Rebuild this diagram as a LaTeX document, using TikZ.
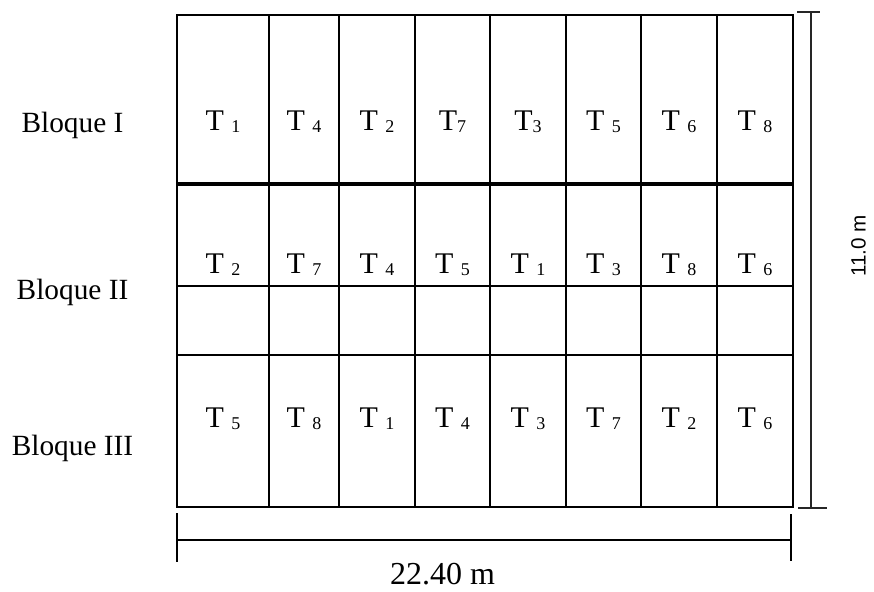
\documentclass[tikz,border=0pt]{standalone}
\usepackage{fontspec}
\setmainfont{Liberation Serif}
\newfontfamily\arialfont{Liberation Sans}
\usetikzlibrary{positioning}

% subindice de los tratamientos
\newcommand{\tsub}[1]{{\fontsize{13.5}{13.5}\selectfont\raisebox{-0.12em}{#1}}}

\begin{document}
\begin{tikzpicture}[
        x=0.75pt, y=-0.75pt,
        % Estilos
        parcela/.style={line width=1.6pt},
        divbloque/.style={line width=3.2pt},
        cota/.style={line width=1.2pt, black!85},
        trat/.style={anchor=base, inner sep=0pt, font=\fontsize{22.5}{22.5}\selectfont},
        bloque/.style={anchor=base, inner sep=0pt, font=\fontsize{22}{22}\selectfont}
    ]
        \useasboundingbox (0,0) rectangle (874,592);

        % Parcelas
        \draw[parcela] (177,15) rectangle (793,507);
        \draw[parcela] (269,15) -- (269,507);
        \draw[parcela] (339,15) -- (339,507);
        \draw[parcela] (415,15) -- (415,507);
        \draw[parcela] (490,15) -- (490,507);
        \draw[parcela] (566,15) -- (566,507);
        \draw[parcela] (641,15) -- (641,507);
        \draw[parcela] (717,15) -- (717,507);
        \draw[parcela] (177,286) -- (793,286);
        \draw[parcela] (177,355) -- (793,355);
        \draw[line width=2.2pt] (269,286) -- (269,355);
        \draw[divbloque] (177,184) -- (793,184);

        % Bloques
        \node[bloque] (b1) at (72.5,132) {Bloque I};
        \node[bloque] (b2) at (72.5,299) {Bloque II};
        \node[bloque] (b3) at (72.5,455) {Bloque III};

        % Bloque I
        \node[trat] (t11) at (223,130) {T \tsub{1}};
        \node[trat] (t12) at (304,130) {T \tsub{4}};
        \node[trat] (t13) at (377,130) {T \tsub{2}};
        \node[trat] (t14) at (452.5,130) {T\tsub{7}};
        \node[trat] (t15) at (528,130) {T\tsub{3}};
        \node[trat] (t16) at (603.5,130) {T \tsub{5}};
        \node[trat] (t17) at (679,130) {T \tsub{6}};
        \node[trat] (t18) at (755,130) {T \tsub{8}};

        % Bloque II
        \node[trat] (t21) at (223,273) {T \tsub{2}};
        \node[trat] (t22) at (304,273) {T \tsub{7}};
        \node[trat] (t23) at (377,273) {T \tsub{4}};
        \node[trat] (t24) at (452.5,273) {T \tsub{5}};
        \node[trat] (t25) at (528,273) {T \tsub{1}};
        \node[trat] (t26) at (603.5,273) {T \tsub{3}};
        \node[trat] (t27) at (679,273) {T \tsub{8}};
        \node[trat] (t28) at (755,273) {T \tsub{6}};

        % Bloque III
        \node[trat] (t31) at (223,427) {T \tsub{5}};
        \node[trat] (t32) at (304,427) {T \tsub{8}};
        \node[trat] (t33) at (377,427) {T \tsub{1}};
        \node[trat] (t34) at (452.5,427) {T \tsub{4}};
        \node[trat] (t35) at (528,427) {T \tsub{3}};
        \node[trat] (t36) at (603.5,427) {T \tsub{7}};
        \node[trat] (t37) at (679,427) {T \tsub{2}};
        \node[trat] (t38) at (755,427) {T \tsub{6}};

        % Cotas
        \coordinate (vtop) at (811,12);
        \coordinate (vbot) at (811,508);
        \draw[cota] (vtop) -- (vbot);
        \draw[cota] (797,12) -- (820,12);
        \draw[cota] (798,508) -- (827,508);
        \node[anchor=base, rotate=90, inner sep=0pt, font=\arialfont\fontsize{15.5}{15.5}\selectfont] (alto) at (865.5,246) {11.0 m};

        \coordinate (hizq) at (177,540);
        \coordinate (hder) at (791,540);
        \draw[cota, black] (hizq) -- (hder);
        \draw[cota, black] (177,513) -- (177,562);
        \draw[cota, black] (791,514) -- (791,561);
        \node[anchor=base, inner sep=0pt, font=\fontsize{24}{24}\selectfont] (ancho) at (442.5,584) {22.40 m};

    \end{tikzpicture}
\end{document}
